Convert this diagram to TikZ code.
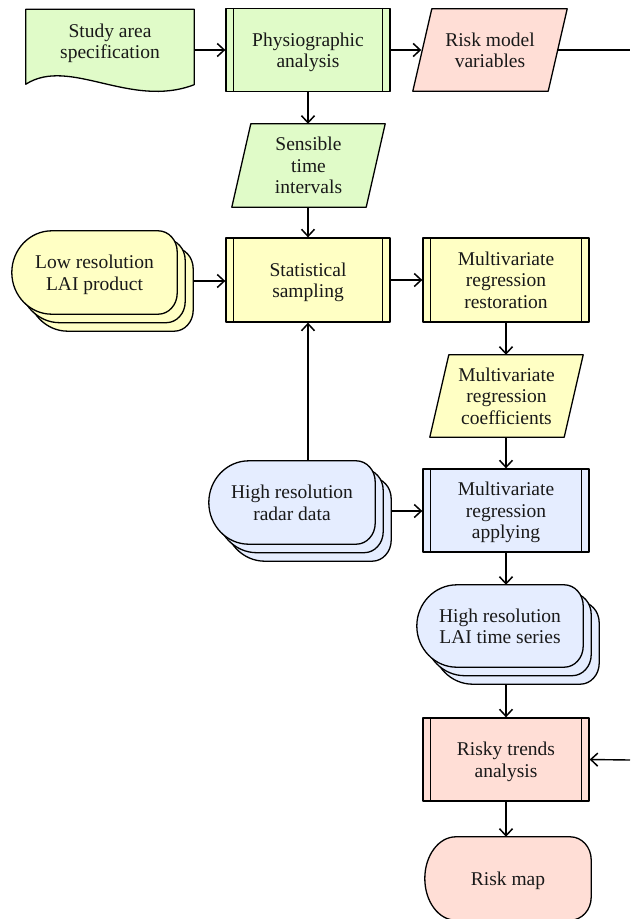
\documentclass[tikz,border=0pt]{standalone}
\usepackage{fontspec}
\setmainfont{Liberation Serif}
\usetikzlibrary{arrows.meta,calc}
\pgfdeclarelayer{background}
\pgfsetlayers{background,main}
\definecolor{cgreen}{RGB}{224,251,200}
\definecolor{cyellow}{RGB}{255,255,196}
\definecolor{cblue}{RGB}{229,237,255}
\definecolor{cpink}{RGB}{255,222,214}
\definecolor{ctext}{RGB}{25,25,25}
\newcommand\tx[1]{\raisebox{-2.5pt}[\height][\depth]{\begin{tabular}{@{}c@{}}#1\end{tabular}}}
\tikzset{
  shapeline/.style={draw=black, line width=1.3pt, line join=round},
  txt/.style={inner sep=0pt, text=ctext, font=\fontsize{19.5}{21.5}\selectfont},
  procbox/.style={txt, shapeline, rectangle, minimum width=164pt, minimum height=83pt},
  databox/.style={txt, rectangle, minimum width=134pt, minimum height=82pt},
  stackbox/.style={txt, rectangle, minimum width=166pt, minimum height=83pt},
  arr/.style={line width=1.4pt, -{Straight Barb[length=7pt,width=13pt,line width=1.5pt]}},
  conn/.style={line width=1.4pt}
}
\newcommand\innerlines[1]{%
  \draw[line width=1.1pt] ([shift={(8,0)}]#1.north west) -- ([shift={(8,0)}]#1.south west);
  \draw[line width=1.1pt] ([shift={(-8,0)}]#1.north east) -- ([shift={(-8,0)}]#1.south east);}
\newcommand\paragram[2]{%
  \draw[shapeline, fill=#2] ([shift={(9.5,0)}]#1.north west) -- ([shift={(9.5,0)}]#1.north east)
    -- ([shift={(-9.5,0)}]#1.south east) -- ([shift={(-9.5,0)}]#1.south west) -- cycle;}
% rounded shape: #1 node, #2 fill, #3 left radius, #4 right corner x radius, #5 right corner y radius, #6 dx, #7 dy
\newcommand\roundshape[7]{%
  \draw[shapeline, fill=#2] let \p1=([shift={(#6,#7)}]#1.north west), \p2=([shift={(#6,#7)}]#1.south east), \n1={(\y1-\y2)/2} in
    ({\x1+#3pt},\y1) -- ({\x2-#4pt},\y1)
    .. controls ({\x2-0.448*#4pt},\y1) and (\x2,{\y1-0.448*#5pt}) .. (\x2,{\y1-#5pt})
    -- (\x2,{\y2+#5pt})
    .. controls (\x2,{\y2+0.448*#5pt}) and ({\x2-0.448*#4pt},\y2) .. ({\x2-#4pt},\y2)
    -- ({\x1+#3pt},\y2)
    .. controls ({\x1+0.448*#3pt},\y2) and (\x1,{\y2+0.448*\n1}) .. (\x1,{\y2+\n1})
    .. controls (\x1,{\y1-0.448*\n1}) and ({\x1+0.448*#3pt},\y1) .. ({\x1+#3pt},\y1) -- cycle;}
\newcommand\stackshape[2]{%
  \roundshape{#1}{#2}{40}{19}{21}{16}{17}
  \roundshape{#1}{#2}{40}{19}{21}{8}{8.5}
  \roundshape{#1}{#2}{40}{19}{21}{0}{0}}
\begin{document}
\begin{tikzpicture}[x=1pt,y=-1pt]
\useasboundingbox (0,0) rectangle (630,919);

% nodes
\node[txt, rectangle, minimum width=168pt, minimum height=63pt] (study) at (110,41) {\tx{Study area\\specification}};
\node[procbox, fill=cgreen] (physio) at (308,50) {\tx{Physiographic\\analysis}};
\node[databox, minimum width=135pt] (riskvar) at (490,50) {\tx{Risk model\\variables}};
\node[databox, minimum height=83pt] (sensible) at (308.5,165.5) {\tx{Sensible\\time\\intervals}};
\node[procbox, fill=cyellow, minimum height=84pt] (stat) at (308,280) {\tx{Statistical\\sampling}};
\node[stackbox, minimum width=165pt] (lai) at (94.5,272.5) {\tx{Low resolution\\LAI product}};
\node[procbox, fill=cyellow, minimum width=166pt, minimum height=84pt] (mrr) at (506,280) {\tx{Multivariate\\regression\\restoration}};
\node[databox] (coeff) at (506.5,396) {\tx{Multivariate\\regression\\coefficients}};
\node[procbox, fill=cblue, minimum width=166pt] (apply) at (506,510.5) {\tx{Multivariate\\regression\\applying}};
\node[stackbox] (radar) at (292,502.5) {\tx{High resolution\\radar data}};
\node[stackbox, minimum height=82pt] (lts) at (500,626) {\tx{High resolution\\LAI time series}};
\node[procbox, fill=cpink, minimum width=166pt] (risky) at (506,759.5) {\tx{Risky trends\\analysis}};
\node[stackbox] (riskmap) at (508,878.5) {\tx{Risk map}};
\coordinate (rout) at (630,50);
\coordinate (rin) at (630,760);

% shapes behind text
\begin{pgfonlayer}{background}
  \draw[shapeline, fill=cgreen] (study.north west) -- (study.north east)
    -- ([shift={(0,12)}]study.south east)
    .. controls ([shift={(-64,36.5)}]study.south east) and ([shift={(44,-16.5)}]study.south west)
    .. ([shift={(0,11.5)}]study.south west) -- cycle;
  \paragram{riskvar}{cpink}
  \paragram{sensible}{cgreen}
  \paragram{coeff}{cyellow}
  \stackshape{lai}{cyellow}
  \stackshape{radar}{cblue}
  \stackshape{lts}{cblue}
  \roundshape{riskmap}{cpink}{31}{21}{23}{0}{0}
\end{pgfonlayer}

\innerlines{physio}
\innerlines{stat}
\innerlines{mrr}
\innerlines{apply}
\innerlines{risky}

% connectors
\draw[arr] (study.east |- physio.west) -- (physio.west);
\draw[arr] (physio.east) -- ([shift={(-1,0)}]riskvar.west);
\draw[conn] (riskvar.east) -- (rout);
\draw[arr] (physio.south) -- (physio.south |- sensible.north);
\draw[arr] (sensible.south -| stat.north) -- (stat.north);
\coordinate (laiout) at ([shift={(16,8.5)}]lai.east);
\draw[arr] (laiout) -- (laiout -| stat.west);
\draw[arr] (stat.east) -- (mrr.west);
\draw[arr] (mrr.south) -- (mrr.south |- coeff.north);
\draw[arr] (coeff.south -| apply.north) -- (apply.north);
\draw[arr] (radar.north -| stat.south) -- (stat.south);
\coordinate (radarout) at ([shift={(16,8.5)}]radar.east);
\draw[arr] (radarout) -- (radarout -| apply.west);
\draw[arr] (apply.south) -- (apply.south |- lts.north);
\coordinate (ltsbot) at ([shift={(0,17)}]lts.south);
\draw[arr] (ltsbot -| risky.north) -- (risky.north);
\draw[arr] (risky.south) -- (risky.south |- riskmap.north);
\draw[arr] (rin) -- (risky.east);
\end{tikzpicture}
\end{document}
